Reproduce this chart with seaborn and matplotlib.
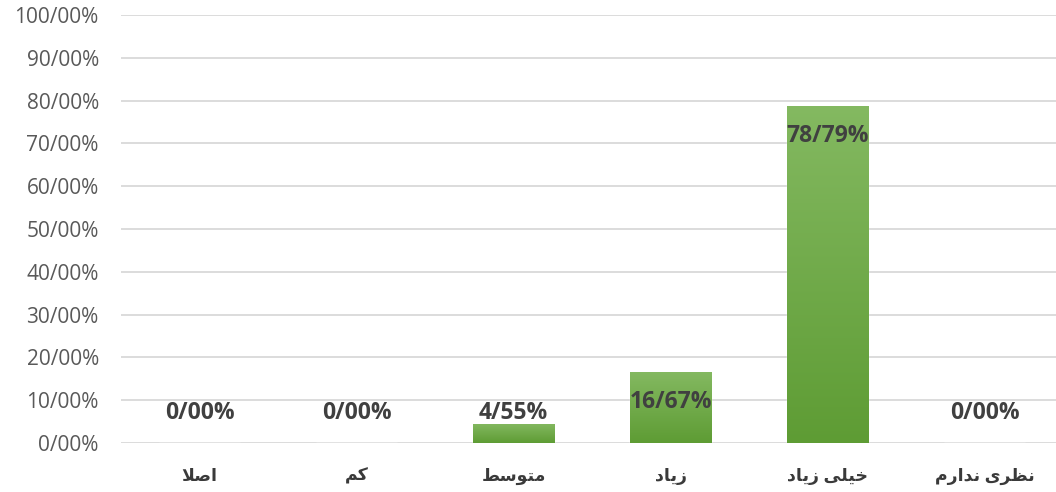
import numpy as np
import pandas as pd
import matplotlib
matplotlib.use("Agg")
import matplotlib.pyplot as plt
from matplotlib.colors import LinearSegmentedColormap
import seaborn as sns

sns.set_style('white')
plt.rcParams['font.family'] = ['Open Sans', 'DejaVu Sans']

# matplotlib does no Arabic shaping, so the labels are written with
# presentation forms in visual (left-to-right) order
shaped = {
    'اصلا': '\uFEFC\uFEBB\uFE8D',
    'کم': '\uFEE2\uFB90',
    'متوسط': '\uFEC2\uFEB3\uFEEE\uFE98\uFEE3',
    'زیاد': '\uFEA9\uFE8E\uFBFE\uFEAF',
    'خیلی زیاد': '\uFEA9\uFE8E\uFBFE\uFEAF \uFBFD\uFEE0\uFBFF\uFEA7',
    'نظری ندارم': '\uFEE1\uFEAD\uFE8D\uFEAA\uFEE7 \uFBFC\uFEAE\uFEC8\uFEE7',
}

df = pd.DataFrame({
    'answer': ['اصلا', 'کم', 'متوسط', 'زیاد', 'خیلی زیاد', 'نظری ندارم'],
    'percent': [0.0, 0.0, 4.55, 16.67, 78.79, 0.0],
})
df['label'] = df['answer'].map(shaped)

fig = plt.figure(figsize=(10.56, 4.92), dpi=100)
ax = fig.add_axes([121 / 1056, 49 / 492, 942 / 1056, 428 / 492])

sns.barplot(x='label', y='percent', data=df, color='#70ad47', width=0.52, ax=ax)

# excel-like vertical gradient on the bars
cmap = LinearSegmentedColormap.from_list('grn', ['#5e9c34', '#84b961'])
grad = np.linspace(0, 1, 256).reshape(-1, 1)
for p in ax.patches:
    h = p.get_height()
    if h <= 0:
        continue
    x0 = p.get_x()
    im = ax.imshow(grad, extent=[x0, x0 + p.get_width(), 0, h], origin='lower',
                   aspect='auto', cmap=cmap, zorder=p.get_zorder() + 0.1)
    im.set_clip_path(p)

for i, v in enumerate(df['percent']):
    ax.text(i, max(v - 7, 7), f"{v:.2f}".replace('.', '/') + '%',
            ha='center', va='center', fontsize=16.5, fontweight='bold',
            color='#404040', zorder=6)

ax.set_xlim(-0.5, 5.5)
ax.set_ylim(0, 100)
ax.set_yticks(range(0, 101, 10))
ax.set_yticklabels([f"{t}/00%" for t in range(0, 101, 10)])
ax.grid(axis='y', color='#d9d9d9', linewidth=1.3)
ax.set_axisbelow(True)
for s in ax.spines.values():
    s.set_visible(False)
ax.tick_params(axis='y', length=0, pad=16, labelsize=15, labelcolor='#595959')
ax.tick_params(axis='x', length=0, pad=17, labelsize=12.5, labelcolor='#3a3a3a')
for t in ax.get_xticklabels():
    t.set_fontweight('bold')
ax.set_xlabel('')
ax.set_ylabel('')

fig.savefig('out.png', dpi=100)
